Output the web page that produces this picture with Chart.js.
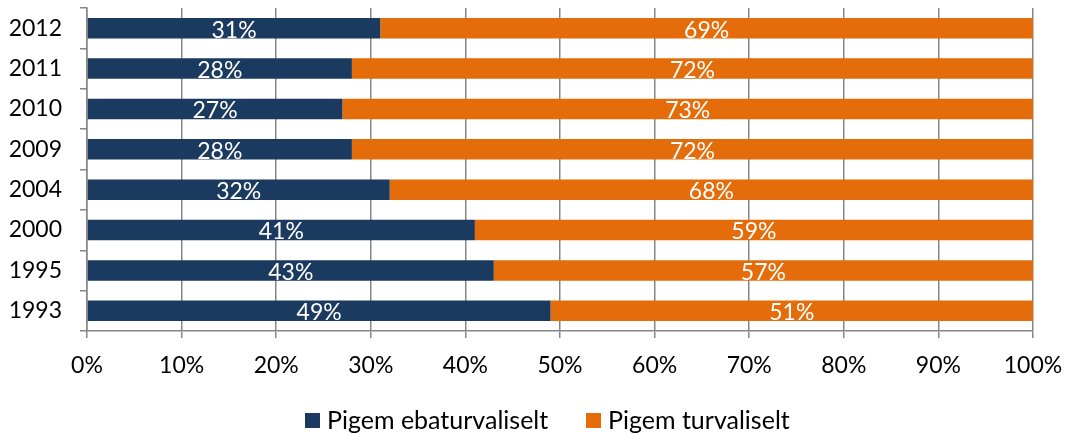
<!DOCTYPE html>
<html><head><meta charset="utf-8">
<script src="https://cdn.jsdelivr.net/npm/chart.js@4/dist/chart.umd.min.js"></script>
<style>html,body{margin:0;padding:0;background:#fff}#w{width:1066px;height:434px}</style>
</head><body><div id="w"><canvas id="c"></canvas></div>
<script>
const categories = ['2012','2011','2010','2009','2004','2000','1995','1993'];
const unsafe = [31,28,27,28,32,41,43,49];
const safe = [69,72,73,72,68,59,57,51];
const seriesNames = ['Pigem ebaturvaliselt','Pigem turvaliselt'];
const seriesColors = ['#1B3A5F','#E46C0A'];
const xTicks = [0,10,20,30,40,50,60,70,80,90,100];

const FONT = 'Lato';
const labelPlugin = {
  id:'lbl',
  afterDatasetsDraw(chart){
    const ctx = chart.ctx;
    ctx.save();
    ctx.font = '23px ' + FONT;
    ctx.fillStyle = '#fff';
    ctx.textAlign = 'center';
    ctx.textBaseline = 'middle';
    chart.data.datasets.forEach((ds,i)=>{
      chart.getDatasetMeta(i).data.forEach((bar,j)=>{
        const p = bar.getProps(['x','y','base'],true);
        ctx.fillText(ds.data[j]+'%', (p.x+p.base)/2, p.y+2);
      });
    });
    ctx.restore();
  },
  afterDraw(chart){
    const ctx = chart.ctx;
    ctx.save();
    ctx.font = '25px ' + FONT;
    ctx.textBaseline = 'middle';
    ctx.textAlign = 'left';
    const items = [[305,327],[586,608]];
    chart.data.datasets.forEach((ds,i)=>{
      ctx.fillStyle = ds.backgroundColor;
      ctx.fillRect(items[i][0],413,15,15);
      ctx.fillStyle = '#000';
      ctx.fillText(ds.label, items[i][1], 421);
    });
    ctx.restore();
  }
};

new Chart(document.getElementById('c'),{
  type:'bar',
  data:{labels:categories,datasets:[
    {label:seriesNames[0],data:unsafe,backgroundColor:seriesColors[0],barPercentage:0.505,categoryPercentage:1},
    {label:seriesNames[1],data:safe,backgroundColor:seriesColors[1],barPercentage:0.505,categoryPercentage:1}
  ]},
  options:{
    indexAxis:'y',responsive:true,maintainAspectRatio:false,animation:false,
    layout:{padding:{top:8,right:33,left:0,bottom:0}},
    plugins:{legend:{display:false},tooltip:{enabled:false}},
    scales:{
      x:{stacked:true,min:0,max:100,
        afterBuildTicks(s){s.ticks=xTicks.map(v=>({value:v}));},
        ticks:{callback:v=>v+'%',font:{family:FONT,size:23},color:'#000',padding:14,maxRotation:0},
        grid:{color:'#868686',lineWidth:1.5,tickLength:7},
        border:{color:'#868686',width:1.5},
        afterFit(s){s.height=103;s.paddingLeft=0;s.paddingRight=0;}
      },
      y:{stacked:true,
        ticks:{font:{family:FONT,size:23},color:'#000',padding:18},
        grid:{drawOnChartArea:false,offset:true,tickLength:7,color:'#868686',lineWidth:1.5},
        border:{color:'#868686',width:1.5},
        afterFit(s){s.width=87;s.paddingTop=0;s.paddingBottom=0;}
      }
    }
  },
  plugins:[labelPlugin]
});
</script></body></html>
